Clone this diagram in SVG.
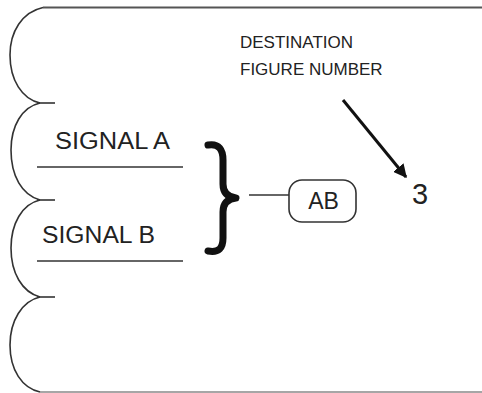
<svg xmlns="http://www.w3.org/2000/svg" width="482" height="393" viewBox="0 0 482 393">
<style>
.ln{fill:none;stroke:#333;stroke-width:1.6}
.t{font-family:"Liberation Sans",Arial,sans-serif;fill:#222}
</style>
<defs>
<marker id="ah" viewBox="0 0 10 10" refX="9" refY="5" markerWidth="4.5" markerHeight="4.5" orient="auto" markerUnits="strokeWidth">
<path d="M0,0 L10,5 L0,10 z" fill="#111"/>
</marker>
</defs>
<rect width="482" height="393" fill="#fff"/>
<g id="frame">
<line x1="43" y1="7.5" x2="482" y2="7.5" stroke="#555" stroke-width="2"/>
<line x1="40" y1="392" x2="482" y2="392" stroke="#888" stroke-width="1.5"/>
<path class="ln" d="M43 7.5 C22 12 10 32 10 55 C10 80 22 99 40 103"/>
<path class="ln" d="M40 103 C22 107 11 126 11 150 C11 176 22 195 40 200"/>
<path class="ln" d="M40 200 C22 204 11 224 11 248 C11 273 22 292 40 297"/>
<path class="ln" d="M40 297 C22 301 10 321 10 345 C10 370 22 388 40 392"/>
<line class="ln" x1="37" y1="103" x2="55" y2="103"/>
<line class="ln" x1="37" y1="200" x2="55" y2="200"/>
<line class="ln" x1="37" y1="297" x2="55" y2="297"/>
</g>
<g id="signal-a">
<text class="t" x="55" y="149" font-size="23.5" textLength="115" lengthAdjust="spacingAndGlyphs">SIGNAL A</text>
<line class="ln" x1="37" y1="167" x2="183" y2="167"/>
</g>
<g id="signal-b">
<text class="t" x="42" y="243" font-size="23.5" textLength="113" lengthAdjust="spacingAndGlyphs">SIGNAL B</text>
<line class="ln" x1="37" y1="261" x2="183" y2="261"/>
</g>
<g id="brace">
<path d="M208 145 C219 143 223 150 223 160 L223 184 C223 192 227 197 236 198 C227 199 223 204 223 212 L223 238 C223 248 219 253 208 251" fill="none" stroke="#111" stroke-width="7" stroke-linecap="round" stroke-linejoin="round"/>
</g>
<g id="ab">
<rect x="289" y="180" width="67" height="42" rx="13" fill="#fff" stroke="#333" stroke-width="1.6"/>
<text class="t" x="323.5" y="209" font-size="23" text-anchor="middle">AB</text>
</g>
<g id="dest-label">
<text class="t" x="240" y="48" font-size="17">DESTINATION</text>
<text class="t" x="240" y="75" font-size="17">FIGURE NUMBER</text>
</g>
<g id="num3">
<text class="t" x="420" y="204" font-size="29" text-anchor="middle">3</text>
</g>
<g id="connectors">
<line class="ln" x1="249" y1="195" x2="289" y2="195"/>
<line x1="343" y1="100" x2="406" y2="177" stroke="#111" stroke-width="3" marker-end="url(#ah)"/>
</g>
</svg>
